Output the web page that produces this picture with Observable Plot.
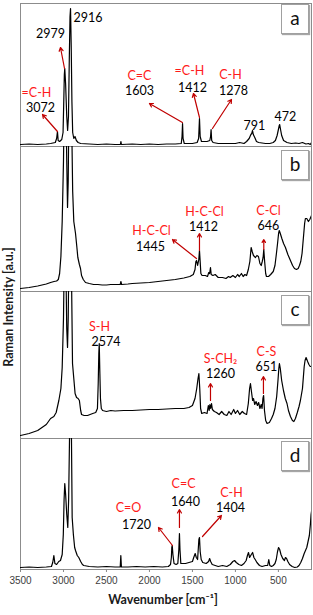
<!DOCTYPE html>
<html><head><meta charset="utf-8">
<script src="https://cdn.jsdelivr.net/npm/d3@7"></script>
<script src="https://cdn.jsdelivr.net/npm/@observablehq/plot@0.6"></script>
<style>
body{margin:0;background:#fff;}
#chart{position:relative;width:313px;height:615px;overflow:hidden;font-family:Lato,sans-serif;}
#chart svg{position:absolute;left:0;background:none;overflow:visible;}
.box{position:absolute;left:281px;width:28px;height:30px;box-sizing:border-box;border:1px solid #a0a0a0;background:#fff;box-shadow:1px 1px 1px rgba(0,0,0,.35);font:19px Lato,sans-serif;text-align:center;line-height:26px;color:#111;}
.ylab{position:absolute;left:8px;top:307px;transform:translate(-50%,-50%) rotate(-90deg);white-space:nowrap;font:bold 12.5px Lato,sans-serif;color:#1a1a1a;}
</style></head><body><div id="chart"></div>
<script>
// Wavenumber [cm-1], intensity [a.u.] pairs
const specA = [[3500,2],[3400,2.5],[3300,2],[3200,2.5],[3150,3],[3095,4],[3080,8],[3070,15],[3062,6],[3045,5],[3020,7],[3005,14],[2998,40],[2990,72],[2985,78],[2975,62],[2962,30],[2952,16],[2942,30],[2932,90],[2924,130],[2918,138],[2910,100],[2902,45],[2893,14],[2880,8],[2866,10],[2850,6],[2830,4],[2800,3],[2700,2.5],[2600,2],[2500,2.5],[2400,2],[2338,2],[2332,5],[2326,2],[2200,2.5],[2100,2],[2000,2.5],[1900,2],[1800,2.5],[1700,2.5],[1630,3],[1621,10],[1615,23],[1609,8],[1595,3],[1500,3],[1445,4],[1428,8],[1418,28],[1410,10],[1395,5],[1330,5],[1298,6],[1289,10],[1283,17],[1276,6],[1260,4],[1200,3],[1100,3],[1000,3],[950,4],[900,3],[870,5],[840,8],[820,12],[810,13],[801,16],[792,12],[775,9],[755,5],[730,4],[650,3],[600,3],[560,4],[535,6],[515,11],[500,17],[490,21],[485,22],[475,17],[462,11],[440,6],[400,4],[350,3],[300,3.5],[260,3],[220,4],[180,2.5],[150,3],[130,2],[115,4]];
const specB = [[3500,3],[3400,4],[3300,5.5],[3200,7.5],[3150,9],[3110,10],[3080,10.5],[3060,12],[3045,18],[3030,35],[3015,70],[3000,130],[2990,200],[2985,240],[2972,190],[2962,130],[2953,84],[2945,110],[2935,200],[2918,240],[2903,160],[2893,100],[2880,70],[2860,58],[2845,45],[2833,34],[2815,27],[2802,23],[2790,16],[2770,12],[2744,9],[2700,8],[2650,7],[2600,7],[2550,6.5],[2500,6.5],[2450,7],[2400,7],[2340,7],[2332,10],[2324,7],[2250,7.5],[2200,8],[2100,8.5],[2000,9],[1900,10],[1800,11],[1700,12],[1600,13.5],[1530,15],[1490,17],[1470,22],[1460,30],[1452,31],[1440,26],[1426,32],[1418,41],[1410,30],[1402,18],[1388,16],[1350,16],[1325,15],[1310,19],[1300,18],[1290,24],[1282,17],[1262,16],[1235,17],[1200,14],[1150,14],[1110,13],[1080,15],[1060,14],[1030,16],[1000,14],[975,17],[955,15],[930,18],[910,15],[890,17],[870,16],[850,22],[832,30],[817,44],[805,40],[790,36],[767,34],[750,36],[732,35],[715,28],[700,26],[688,30],[678,34],[670,42],[660,30],[648,18],[639,15],[615,15],[590,17],[560,20],[540,26],[523,38],[510,48],[498,58],[490,61],[478,58],[460,53],[440,48],[418,44],[390,37],[360,31],[335,26],[313,23],[290,22],[270,23],[255,26],[240,30],[225,38],[209,54],[195,68],[186,73],[170,73],[151,70],[135,72],[115,76]];
const specC = [[3500,3],[3400,5],[3300,8],[3250,11],[3200,14],[3150,20],[3112,22],[3085,26],[3054,38],[3030,50],[3015,71],[3000,120],[2985,220],[2975,190],[2962,110],[2953,91],[2945,120],[2935,200],[2918,240],[2905,150],[2895,75],[2880,60],[2865,45],[2848,41],[2830,40],[2815,38],[2800,28],[2790,24],[2760,23],[2720,23],[2690,24],[2660,25],[2625,26],[2605,30],[2596,55],[2589,85],[2584,95],[2578,70],[2570,40],[2560,30],[2545,28],[2500,27],[2450,28],[2400,27.5],[2300,28],[2200,28],[2100,28.5],[2000,29],[1900,29],[1800,29.5],[1700,30],[1600,30],[1540,31],[1500,33],[1470,40],[1450,50],[1435,60],[1425,65],[1415,50],[1405,30],[1392,25],[1360,26],[1330,25],[1315,33],[1305,28],[1297,34],[1288,30],[1278,35],[1268,29],[1245,27],[1220,26],[1190,24],[1160,27],[1130,24],[1100,23],[1075,27],[1050,24],[1020,29],[1000,25],[975,28],[950,24],[920,27],[895,25],[870,24],[850,35],[835,50],[825,55],[812,46],[800,38],[790,40],[775,34],[760,37],[744,33],[730,36],[715,30],[700,34],[690,30],[680,40],[672,43],[662,28],[648,18],[632,15],[605,16],[580,20],[560,24],[540,30],[520,42],[505,58],[495,70],[488,75],[478,70],[462,58],[441,48],[420,40],[400,35],[383,28],[360,22],[337,18],[320,17],[302,20],[280,26],[260,32],[244,38],[220,50],[200,72],[190,78],[178,81],[160,77],[145,74],[130,72],[115,72]];
const specD = [[3500,2],[3400,2.5],[3300,2],[3200,2.5],[3140,3],[3125,7],[3112,14],[3100,6],[3080,5],[3055,8],[3035,9],[3015,15],[3002,35],[2993,70],[2985,86],[2975,75],[2962,55],[2950,42],[2940,70],[2930,130],[2918,180],[2907,130],[2899,52],[2885,35],[2870,22],[2860,19],[2840,14],[2822,12],[2800,8],[2780,5],[2764,4],[2700,3],[2600,2.5],[2500,3],[2400,2.5],[2340,2.5],[2333,14],[2326,2.5],[2250,2.5],[2150,3],[2050,2.5],[1950,3],[1850,2.5],[1780,3],[1755,5],[1745,12],[1740,22],[1735,24],[1727,15],[1714,6],[1690,5],[1670,6],[1658,20],[1651,36],[1645,20],[1635,6],[1580,6],[1540,7],[1500,8],[1485,12],[1468,16],[1455,12],[1440,10],[1425,30],[1418,32],[1410,18],[1398,10],[1380,7],[1340,6],[1312,8],[1300,11],[1288,8],[1270,5],[1200,3],[1150,4],[1100,3],[1060,5],[1030,8],[1010,9],[990,7],[960,5],[930,4],[900,6],[875,9],[860,14],[848,17],[835,12],[815,15],[800,17],[785,12],[770,10],[750,7],[720,4],[690,3],[650,4],[625,4],[612,10],[600,4],[580,3],[560,4],[540,6],[525,10],[510,18],[498,22],[485,20],[470,15],[450,11],[430,9],[418,12],[405,11],[390,8],[370,5],[340,3],[310,2],[280,2.5],[260,4],[240,7],[220,11],[200,16],[185,19],[170,22],[155,28],[140,34],[128,45],[120,55],[115,58]];

// Annotations: [text, wavenumber, intensity]
const bondsA = [["=C-H",3314,54],["C=C",2116,71],["=C-H",1534,76],["C-H",1058,72]];
const peaksA = [["2916",2715,129],["2979",3151,113],["3072",3267,39],["1603",2116,56],["1412",1500,59],["1278",1023,56],["791",779,21],["472",418,30]];
const arrowsA = [[2988,78,3035,99],[3070,15,3244,32],[1616,24,2000,43],[1418,29,1488,53],[1267,18,1046,47]];

const bondsB = [["H-C-Cl",1976,61],["H-C-Cl",1360,80],["C-Cl",616,81]];
const peaksB = [["1445",1988,45],["1412",1372,65],["646",616,66]];
const arrowsB = [[1453,33,1732,52],[1418,41,1418,58],[670,42,670,52]];

const bondsC = [["S-H",2581,112],["S-CH₂",1174,80],["C-S",639,87]];
const peaksC = [["2574",2506,97],["1260",1174,65],["651",639,72]];
const arrowsC = [[1290,38,1290,55],[674,45,674,62]];

const bondsD = [["C=O",2244,62],["C=C",1604,86],["C-H",1046,77]];
const peaksD = [["1720",2151,45],["1640",1581,68],["1404",1058,62]];
const arrowsD = [[1732,24,1895,42],[1651,42,1651,60],[1383,33,1163,54]];

const panelLetters = ["a","b","c","d"];
const xTicks = [3500,3000,2500,2000,1500,1000,500];
const xTitle = "Wavenumber [cm⁻¹]";
const yTitle = "Raman Intensity [a.u.]";

const panels = [
  {spec:specA, bonds:bondsA, peaks:peaksA, arrows:arrowsA, ymax:143},
  {spec:specB, bonds:bondsB, peaks:peaksB, arrows:arrowsB, ymax:145},
  {spec:specC, bonds:bondsC, peaks:peaksC, arrows:arrowsC, ymax:147},
  {spec:specD, bonds:bondsD, peaks:peaksD, arrows:arrowsD, ymax:131}
];
const layout = [
  {top:0, height:147, mt:3, mb:1, box:4},
  {top:146, height:146, mt:0, mb:1, box:150},
  {top:291, height:148, mt:0, mb:1, box:295},
  {top:438, height:177, mt:0, mb:46, box:441}
];

const chart = document.getElementById("chart");
panels.forEach((P, i) => {
  const L = layout[i];
  const last = i === panels.length - 1;
  const marks = [
    Plot.frame({stroke:"#8c8c8c"}),
    Plot.line(P.spec, {x:d=>d[0], y:d=>d[1], stroke:"#000", strokeWidth:1.2, clip:true}),
    Plot.arrow(P.arrows, {x1:d=>d[0], y1:d=>d[1], x2:d=>d[2], y2:d=>d[3], stroke:"#c00000", strokeWidth:1.2, headLength:5}),
    Plot.text(P.bonds, {x:d=>d[1], y:d=>d[2], text:d=>d[0], fill:"#ff1a1a", fontSize:12.5, fontFamily:"Lato"}),
    Plot.text(P.peaks, {x:d=>d[1], y:d=>d[2], text:d=>d[0], fill:"#000", fontSize:12.5, fontFamily:"Lato"})
  ];
  if (last) {
    marks.push(Plot.axisX({ticks:xTicks, tickFormat:d=>String(d), tickSize:3, tickPadding:4, fontSize:10, fontFamily:"Liberation Sans, Arial", color:"#404040", stroke:"#888", label:null}));
    marks.push(Plot.text([xTitle], {frameAnchor:"bottom", dy:34, dx:-3, fontWeight:"bold", fontSize:12.5, fontFamily:"Lato", fill:"#1a1a1a"}));
  }
  const svg = Plot.plot({
    width:313, height:L.height,
    marginLeft:20, marginRight:2, marginTop:L.mt, marginBottom:L.mb,
    x:{domain:[3500,115], axis:null},
    y:{domain:[0,P.ymax], axis:null},
    style:{background:"none", overflow:"visible", fontFamily:"Lato"},
    marks
  });
  svg.style.top = L.top + "px";
  chart.appendChild(svg);
  const box = document.createElement("div");
  box.className = "box";
  box.style.top = L.box + "px";
  box.textContent = panelLetters[i];
  chart.appendChild(box);
});
const yl = document.createElement("div");
yl.className = "ylab";
yl.textContent = yTitle;
chart.appendChild(yl);
</script></body></html>
